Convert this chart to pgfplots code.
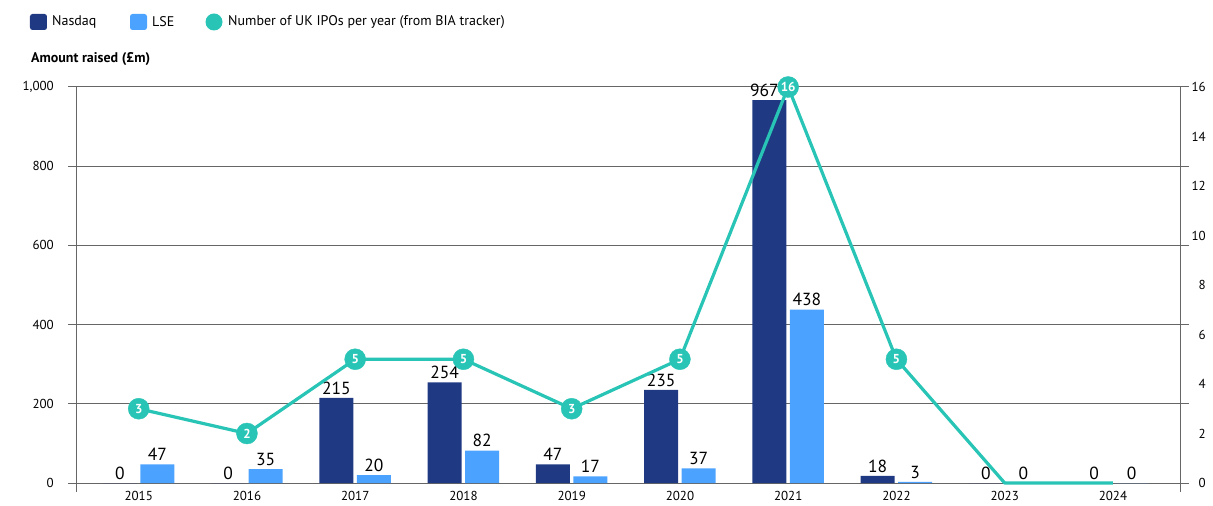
\documentclass[border=0pt]{standalone}
\usepackage{pgfplots}
\pgfplotsset{compat=1.18}
\usepackage{fontspec}
\setmainfont{PT Sans}
\definecolor{nasdaq}{RGB}{31,58,130}
\definecolor{lse}{RGB}{76,163,255}
\definecolor{ipo}{RGB}{40,196,182}
\definecolor{gridgray}{RGB}{102,102,102}
\newcommand{\fs}[1]{\fontsize{#1}{#1}\selectfont}
\begin{document}
\begin{tikzpicture}
\pgfplotsset{
  common/.style={scale only axis, width=1103pt, height=405pt,
    xmin=-0.57, xmax=9.62,
    /pgf/number format/assume math mode=true},
}
\begin{axis}[common, name=ax,
  ybar=3.5pt, bar width=34pt,
  ymin=-22.7, ymax=1000,
  separate axis lines,
  x axis line style={draw=none},
  y axis line style={draw=gridgray, line width=1pt},
  xtick={0,...,9},
  xticklabels={2015,2016,2017,2018,2019,2020,2021,2022,2023,2024},
  xtick style={draw=none},
  xticklabel style={font=\fs{13}, anchor=center, yshift=5pt},
  ytick={0,200,...,1000},
  ytick pos=both, yticklabel pos=left,
  tick align=outside, major tick length=9pt,
  ytick style={draw=gridgray, line width=1pt},
  yticklabel style={font=\fs{13}, anchor=east, xshift=-10.7pt},
  /pgf/number format/1000 sep={,},
  ymajorgrids, grid style={gridgray, line width=1pt},
  nodes near coords,
  nodes near coords style={font=\fs{17.5}, text=black},
]
% the 2021 label is moved a little to the left, clear of the 16 marker
\addplot[fill=nasdaq, draw=none,
  visualization depends on={rawx \as \rx},
  nodes near coords style={xshift={ifthenelse(\rx==6,-5,0)}}]
  coordinates {(0,0) (1,0) (2,215) (3,254) (4,47) (5,235) (6,967) (7,18) (8,0) (9,0)};
\addplot[fill=lse, draw=none]
  coordinates {(0,47) (1,35) (2,20) (3,82) (4,17) (5,37) (6,438) (7,3) (8,0) (9,0)};
\end{axis}
\begin{axis}[common,
  ymin=-0.364, ymax=16,
  hide x axis,
  axis y line*=right,
  y axis line style={draw=none},
  ytick={0,2,...,16},
  major tick length=0pt,
  yticklabel style={font=\fs{13}, anchor=east, xshift=29.3pt},
]
\addplot[ipo, line width=3.2pt, line join=round]
  coordinates {(0,3) (1,2) (2,5) (3,5) (4,3) (5,5) (6,16) (7,5) (8,0) (9,0)};
\addplot[only marks, mark=*, mark size=10.5pt, ipo,
  nodes near coords,
  nodes near coords style={anchor=center, font=\fs{13}\bfseries, text=white}]
  coordinates {(0,3) (1,2) (2,5) (3,5) (4,3) (5,5) (6,16) (7,5)};
\end{axis}
% legend and axis title
\fill[nasdaq, rounded corners=2.5pt] ([shift={(-47pt,462pt)}]ax.south west) rectangle ([shift={(-30pt,478pt)}]ax.south west);
\node[anchor=west, inner sep=0pt, font=\fs{14}] at ([shift={(-25pt,470pt)}]ax.south west) {Nasdaq};
\fill[lse, rounded corners=2.5pt] ([shift={(53pt,462pt)}]ax.south west) rectangle ([shift={(70pt,478pt)}]ax.south west);
\node[anchor=west, inner sep=0pt, font=\fs{14}] at ([shift={(75pt,470pt)}]ax.south west) {LSE};
\fill[ipo] ([shift={(137pt,470pt)}]ax.south west) circle (8.5pt);
\node[anchor=west, inner sep=0pt, font=\fs{14}] at ([shift={(151pt,470pt)}]ax.south west) {Number of UK IPOs per year (from BIA tracker)};
\node[anchor=west, inner sep=0pt, font=\fs{14}\bfseries] at ([shift={(-46pt,433pt)}]ax.south west) {Amount raised (£m)};
\pgfresetboundingbox
\path[use as bounding box] ([shift={(-77pt,-14pt)}]ax.south west) rectangle ([shift={(1136pt,492pt)}]ax.south west);
\end{tikzpicture}
\end{document}
